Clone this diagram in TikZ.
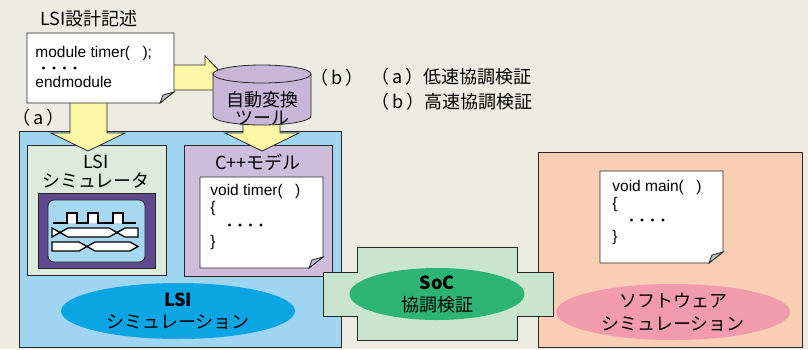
\documentclass[tikz,border=0pt]{standalone}
\usepackage{fontspec}
\setmainfont{Noto Sans CJK JP}
\newfontfamily\codefont{Liberation Sans}
\usetikzlibrary{positioning}
\usetikzlibrary{shapes.geometric}

\definecolor{bgbeige}{HTML}{EDECE2}
\definecolor{lsiblue}{HTML}{A0D5F2}
\definecolor{simgreen}{HTML}{DCEBDC}
\definecolor{wavepurple}{HTML}{5E4A8C}
\definecolor{wavebg}{HTML}{A6D8F2}
\definecolor{modelpurple}{HTML}{CDBCDB}
\definecolor{toolpurple}{HTML}{C9B5D8}
\definecolor{ovalblue}{HTML}{0BA5E3}
\definecolor{socgreen}{HTML}{C9E5CD}
\definecolor{ovalgreen}{HTML}{2DB474}
\definecolor{swpeach}{HTML}{F9CEB4}
\definecolor{ovalpink}{HTML}{F29AAE}
\definecolor{arrowyellow}{HTML}{FDF7A6}

% four spaced dots inside the code sheets
\newcommand{\codedots}[1]{\hspace*{#1}{\rmfamily\bfseries\fontsize{10.5}{10}\selectfont ・・・・}}
% sheet of paper with a folded corner: x1 y1 x2 y2
\newcommand{\paperdoc}[4]{%
  \draw[box, fill=white] (#1,#2) -- (#3,#2) -- (#3,#4-11) -- (#3-14,#4) -- (#1,#4) -- cycle;
  \draw[box, fill=black!25] (#3,#4-11) -- (#3-11,#4-8) -- (#3-14,#4) -- cycle;}

\begin{document}
\begin{tikzpicture}[x=1pt, y=-1pt, line width=0.8pt,
    box/.style={draw=black!85},
    jptext/.style={font=\fontsize{18}{20}\selectfont, align=center, inner sep=0pt},
    codetext/.style={font=\codefont\fontsize{15.5}{#1}\selectfont, align=left, anchor=west, inner sep=0pt},
    oval/.style={ellipse, inner sep=0pt},
    blockarrow/.style={draw=black!85, fill=arrowyellow},
    wave/.style={draw=black, line width=1.3pt, fill=white}]

  \fill[bgbeige] (0,0) rectangle (808,349);

  % the two simulation areas
  \draw[box, fill=lsiblue] (19,131) rectangle (341,347);
  \draw[box, fill=swpeach] (538,152) rectangle (802,347);

  % LSI simulator with its waveform window
  \node[box, fill=simgreen, minimum width=139, minimum height=130, anchor=north west] (lsisim) at (27,145) {};
  \node[jptext] (lsisimlabel) at (96,172) {LSI\\[-1pt]シミュレータ};
  \draw[box, fill=wavepurple] (38,193) rectangle (155,268);
  \draw[box, fill=wavebg, rounded corners=6] (48,200) rectangle (145,262);
  \draw[wave] (53,223) -- (67,223) -- (67,213) -- (77,213) -- (77,223) -- (88,223) -- (88,213)
    -- (98,213) -- (98,223) -- (113,223) -- (113,213) -- (123,213) -- (123,223) -- (136,223);
  \draw[wave] (52,228) -- (60,232.5) -- (52,237) -- cycle;
  \draw[wave] (60,232.5) -- (68,228) -- (109,228) -- (117,232.5) -- (109,237) -- (68,237) -- cycle;
  \draw[wave] (117,232.5) -- (125,228) -- (138,228) -- (138,237) -- (125,237) -- cycle;
  \draw[wave] (52,242) -- (79,242) -- (87,246.5) -- (79,251) -- (52,251) -- cycle;
  \draw[wave] (87,246.5) -- (95,242) -- (130,242) -- (138,246.5) -- (130,251) -- (95,251) -- cycle;

  % C++ model
  \node[box, fill=modelpurple, minimum width=148, minimum height=131, anchor=north west] (cppmodel) at (184,145) {};
  \node[jptext] (cpplabel) at (258,162) {C++モデル};
  \paperdoc{200}{177}{323}{268}
  \node[codetext=17] (cppcode) at (210,216.5) {void timer(\hspace{0.8em})\\\{\\\codedots{14pt}\\\}};

  \node[oval, fill=ovalblue, minimum width=234, minimum height=56] (lsioval) at (178,311) {};
  \node[jptext, font=\fontsize{18}{22}\selectfont] (lsiovaltext) at (178,311) {\textbf{LSI}\\シミュレーション};

  % SoC co-verification link between both sides
  \draw[box, fill=socgreen] (323,272) -- (357,272) -- (357,247) -- (517,247) -- (517,272) -- (553,272)
    -- (553,316) -- (517,316) -- (517,340) -- (357,340) -- (357,316) -- (323,316) -- cycle;
  \node[oval, fill=ovalgreen, minimum width=175, minimum height=52] (socoval) at (437,294) {};
  \node[jptext, font=\fontsize{18}{22}\selectfont] (socovaltext) at (437,294) {\textbf{SoC}\\協調検証};

  % software side
  \paperdoc{600}{171}{723}{263}
  \node[codetext=16.5] (maincode) at (612,212.5) {void main(\hspace{0.8em})\\\{\\\codedots{14pt}\\\}};
  \node[oval, fill=ovalpink, minimum width=234, minimum height=56] (swoval) at (673,312) {};
  \node[jptext, font=\fontsize{18}{23}\selectfont] (swovaltext) at (673,312) {ソフトウェア\\シミュレーション};

  % block arrows (a) and (b)
  \draw[blockarrow] (70,98) -- (107,98) -- (107,133) -- (125,133) -- (88,151) -- (51,133) -- (70,133) -- cycle;
  \draw[blockarrow] (243,116) -- (280,116) -- (280,133) -- (299,133) -- (262,151) -- (225,133) -- (243,133) -- cycle;
  \draw[blockarrow] (165,65) -- (205,65) -- (205,56) -- (228,80) -- (214,94) -- (214,90) -- (165,90) -- cycle;

  % LSI description sheet
  \node[jptext] (desclabel) at (89,19) {LSI設計記述};
  \paperdoc{27}{33}{174}{103}
  \node[codetext=15] (desccode) at (35,67) {module timer(\hspace{0.8em});\\\codedots{3pt}\\endmodule};

  % conversion tool
  \draw[box, fill=toolpurple] (213,74) -- (213,116) arc[start angle=180, end angle=0, x radius=49, y radius=9] -- (311,74) -- cycle;
  \draw[box, fill=toolpurple] (262,74) ellipse[x radius=49, y radius=9];
  \node[jptext, font=\fontsize{18}{18}\selectfont] (tooltext) at (262,108) {自動変換\\ツール};

  % labels and legend
  \node[jptext, anchor=west] (labelb) at (310,78) {（\,b\,）};
  \node[jptext, anchor=west] (labela) at (12,118) {（\,a\,）};
  \node[jptext, anchor=west] (legenda) at (371,77) {（\,a\,）低速協調検証};
  \node[jptext, anchor=west] (legendb) at (371,102) {（\,b\,）高速協調検証};
\end{tikzpicture}
\end{document}
